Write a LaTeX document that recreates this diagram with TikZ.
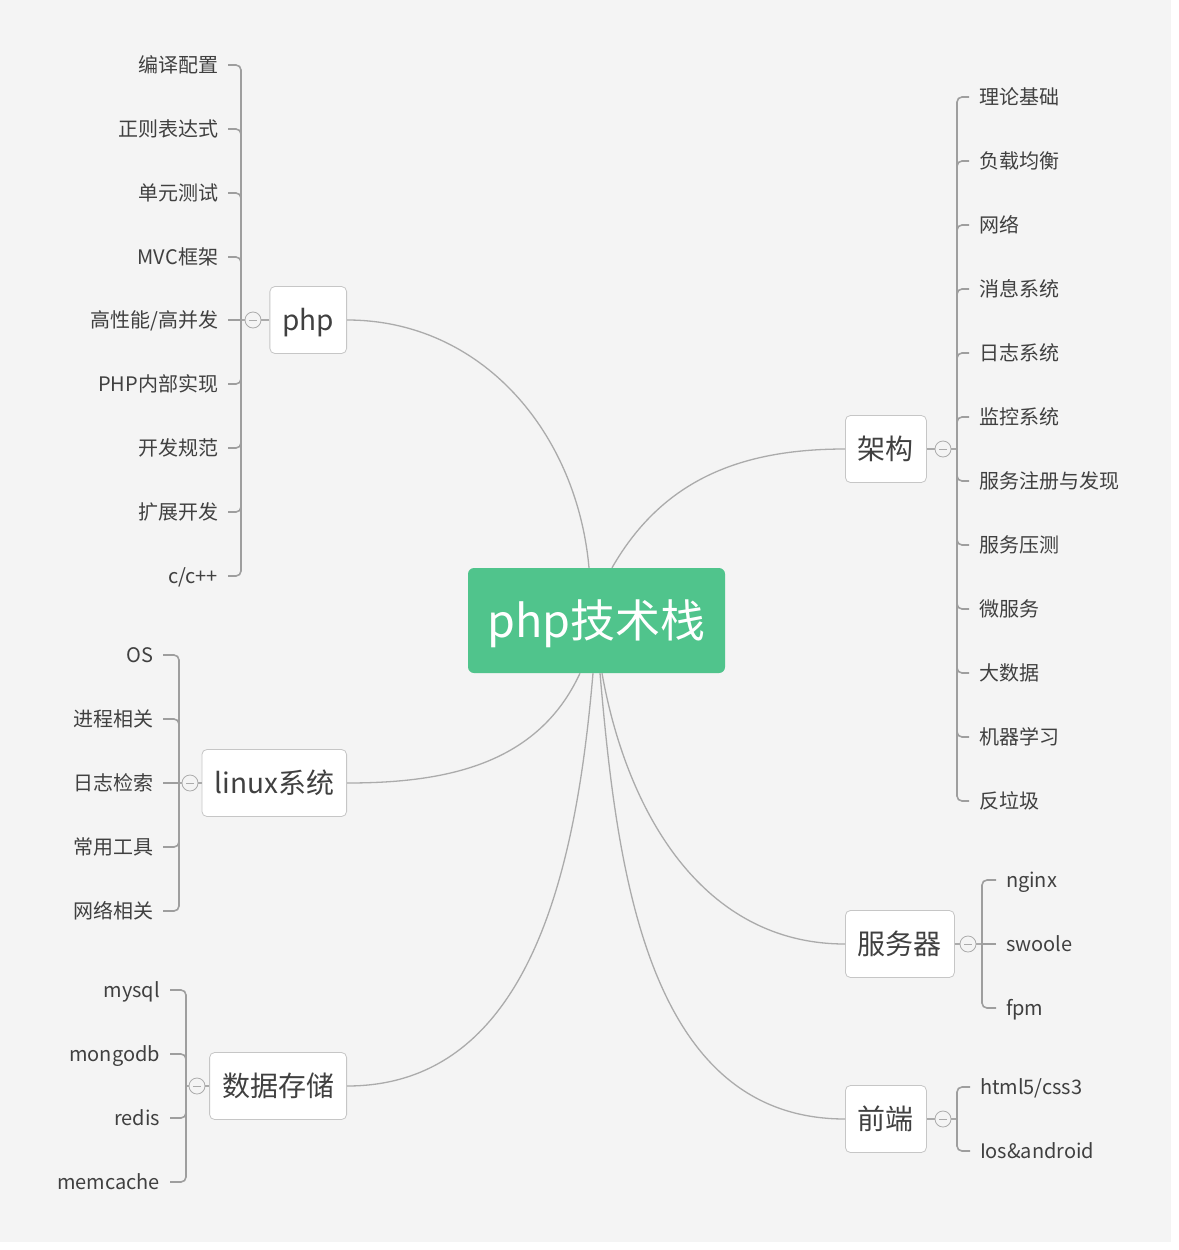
\documentclass[tikz,border=0pt]{standalone}
\usepackage{fontspec}
\setmainfont{Noto Sans CJK SC}
\usetikzlibrary{positioning}
\definecolor{bggray}{HTML}{F4F4F4}
\definecolor{rootgreen}{HTML}{50C48C}
\definecolor{inkgray}{HTML}{404040}
\definecolor{linegray}{HTML}{ABABAB}
\definecolor{spinegray}{HTML}{9E9E9E}
\definecolor{boxgray}{HTML}{C6C6C6}

\tikzset{
  root/.style={rectangle, rounded corners=6pt, fill=rootgreen, text=white,
    minimum width=257pt, minimum height=105pt, inner sep=0pt,
    font=\fontsize{45}{50}\selectfont, text height=39.5pt, text depth=5.5pt},
  topic/.style={rectangle, rounded corners=5pt, draw=boxgray, fill=white, text=inkgray,
    line width=0.8pt, minimum height=67pt, inner xsep=12.5pt,
    font=\fontsize{28}{32}\selectfont, text height=24.5pt, text depth=3.5pt},
  leaf/.style={inner ysep=0pt, inner xsep=0pt, outer xsep=10pt, text=inkgray,
    font=\fontsize{20}{24}\selectfont, text height=17.5pt, text depth=2.5pt},
  lleaf/.style={leaf, anchor=east},
  rleaf/.style={leaf, anchor=west},
  fold/.style={circle, draw=linegray, fill=bggray, minimum size=16pt, inner sep=0pt,
    line width=0.8pt,
    path picture={\draw[linegray, line width=0.8pt] ([xshift=-4pt]path picture bounding box.center) -- ([xshift=4pt]path picture bounding box.center);}},
  trunk/.style={draw=linegray, line width=1.3pt},
  bracket/.style={draw=spinegray, line width=1.6pt, rounded corners=5pt},
}

\begin{document}
\begin{tikzpicture}[x=1pt, y=-1pt]
  \useasboundingbox (0,0) rectangle (1178,1250);
  \fill[bggray] (0,0) rectangle (1171,1242);

  % centre
  \node[root] (root) at (596.5,620.5) {php技术栈};

  % main topics
  \node[topic, anchor=east] (php) at (347,320) {php};
  \node[topic, anchor=east] (linux) at (347,783) {linux系统};
  \node[topic, anchor=east] (store) at (347,1086) {数据存储};
  \node[topic, anchor=west] (arch) at (845,449) {架构};
  \node[topic, anchor=west] (server) at (845,944) {服务器};
  \node[topic, anchor=west] (front) at (845,1119) {前端};

  % starts of the trunks on the root
  \coordinate (rphp) at ([xshift=-7.5pt]root.north);
  \coordinate (rarch) at ([xshift=15.5pt]root.north);
  \coordinate (rlinux) at ([xshift=-16.5pt]root.south);
  \coordinate (rstore) at ([xshift=-3.5pt]root.south);
  \coordinate (rserver) at ([xshift=5.5pt]root.south);
  \coordinate (rfront) at ([xshift=3.5pt]root.south);

  \draw[trunk] (rphp) .. controls +(-12,-135) and +(135,0) .. (php.east);
  \draw[trunk] (rarch) .. controls +(51,-89) and +(-103,0) .. (arch.west);
  \draw[trunk] (rlinux) .. controls +(-42,91) and +(100,0) .. (linux.east);
  \draw[trunk] (rstore) .. controls +(-16,186) and +(187,0) .. (store.east);
  \draw[trunk] (rserver) .. controls +(25,140) and +(-142,0) .. (server.west);
  \draw[trunk] (rfront) .. controls +(17,197) and +(-198,0) .. (front.west);

  % php
  \coordinate (phps) at (241,320);
  \node[fold] (phpf) at (253,320) {};
  \node[lleaf] (p1) at (228,65) {编译配置};
  \node[lleaf] (p2) at (228,129) {正则表达式};
  \node[lleaf] (p3) at (228,193) {单元测试};
  \node[lleaf] (p4) at (228,257) {MVC框架};
  \node[lleaf] (p5) at (228,320) {高性能/高并发};
  \node[lleaf] (p6) at (228,384) {PHP内部实现};
  \node[lleaf] (p7) at (228,448) {开发规范};
  \node[lleaf] (p8) at (228,512) {扩展开发};
  \node[lleaf] (p9) at (228,576) {c/c++};
  \draw[trunk] (php.west) -- (phpf.east);
  \draw[trunk] (phpf.west) -- (phps);
  \draw[bracket] (p1.east) -- (p1.east -| phps) -- (phps);
  \draw[bracket] (p2.east) -- (p2.east -| phps) -- (phps);
  \draw[bracket] (p3.east) -- (p3.east -| phps) -- (phps);
  \draw[bracket] (p4.east) -- (p4.east -| phps) -- (phps);
  \draw[bracket] (p5.east) -- (phps);
  \draw[bracket] (p6.east) -- (p6.east -| phps) -- (phps);
  \draw[bracket] (p7.east) -- (p7.east -| phps) -- (phps);
  \draw[bracket] (p8.east) -- (p8.east -| phps) -- (phps);
  \draw[bracket] (p9.east) -- (p9.east -| phps) -- (phps);

  % linux
  \coordinate (linuxs) at (179,783);
  \node[fold] (linuxf) at (190,783) {};
  \node[lleaf] (l1) at (163,655) {OS};
  \node[lleaf] (l2) at (163,719) {进程相关};
  \node[lleaf] (l3) at (163,783) {日志检索};
  \node[lleaf] (l4) at (163,847) {常用工具};
  \node[lleaf] (l5) at (163,911) {网络相关};
  \draw[trunk] (linux.west) -- (linuxf.east);
  \draw[trunk] (linuxf.west) -- (linuxs);
  \draw[bracket] (l1.east) -- (l1.east -| linuxs) -- (linuxs);
  \draw[bracket] (l2.east) -- (l2.east -| linuxs) -- (linuxs);
  \draw[bracket] (l3.east) -- (linuxs);
  \draw[bracket] (l4.east) -- (l4.east -| linuxs) -- (linuxs);
  \draw[bracket] (l5.east) -- (l5.east -| linuxs) -- (linuxs);

  % storage
  \coordinate (stores) at (186,1086);
  \node[fold] (storef) at (197,1086) {};
  \node[lleaf] (s1) at (170,990) {mysql};
  \node[lleaf] (s2) at (170,1054) {mongodb};
  \node[lleaf] (s3) at (170,1118) {redis};
  \node[lleaf] (s4) at (170,1182) {memcache};
  \draw[trunk] (store.west) -- (storef.east);
  \draw[trunk] (storef.west) -- (stores);
  \draw[bracket] (s1.east) -- (s1.east -| stores) -- (stores);
  \draw[bracket] (s2.east) -- (s2.east -| stores) -- (stores);
  \draw[bracket] (s3.east) -- (s3.east -| stores) -- (stores);
  \draw[bracket] (s4.east) -- (s4.east -| stores) -- (stores);

  % architecture
  \coordinate (archs) at (957,449);
  \node[fold] (archf) at (943,449) {};
  \node[rleaf] (a1) at (969,97) {理论基础};
  \node[rleaf] (a2) at (969,161) {负载均衡};
  \node[rleaf] (a3) at (969,225) {网络};
  \node[rleaf] (a4) at (969,289) {消息系统};
  \node[rleaf] (a5) at (969,353) {日志系统};
  \node[rleaf] (a6) at (969,417) {监控系统};
  \node[rleaf] (a7) at (969,481) {服务注册与发现};
  \node[rleaf] (a8) at (969,545) {服务压测};
  \node[rleaf] (a9) at (969,609) {微服务};
  \node[rleaf] (a10) at (969,673) {大数据};
  \node[rleaf] (a11) at (969,737) {机器学习};
  \node[rleaf] (a12) at (969,801) {反垃圾};
  \draw[trunk] (arch.east) -- (archf.west);
  \draw[trunk] (archf.east) -- (archs);
  \draw[bracket] (a1.west) -- (a1.west -| archs) -- (archs);
  \draw[bracket] (a2.west) -- (a2.west -| archs) -- (archs);
  \draw[bracket] (a3.west) -- (a3.west -| archs) -- (archs);
  \draw[bracket] (a4.west) -- (a4.west -| archs) -- (archs);
  \draw[bracket] (a5.west) -- (a5.west -| archs) -- (archs);
  \draw[bracket] (a6.west) -- (a6.west -| archs) -- (archs);
  \draw[bracket] (a7.west) -- (a7.west -| archs) -- (archs);
  \draw[bracket] (a8.west) -- (a8.west -| archs) -- (archs);
  \draw[bracket] (a9.west) -- (a9.west -| archs) -- (archs);
  \draw[bracket] (a10.west) -- (a10.west -| archs) -- (archs);
  \draw[bracket] (a11.west) -- (a11.west -| archs) -- (archs);
  \draw[bracket] (a12.west) -- (a12.west -| archs) -- (archs);

  % server
  \coordinate (servers) at (982,944);
  \node[fold] (serverf) at (968,944) {};
  \node[rleaf] (v1) at (996,880) {nginx};
  \node[rleaf] (v2) at (996,944) {swoole};
  \node[rleaf] (v3) at (996,1008) {fpm};
  \draw[trunk] (server.east) -- (serverf.west);
  \draw[trunk] (serverf.east) -- (servers);
  \draw[bracket] (v1.west) -- (v1.west -| servers) -- (servers);
  \draw[bracket] (v2.west) -- (servers);
  \draw[bracket] (v3.west) -- (v3.west -| servers) -- (servers);

  % front end
  \coordinate (fronts) at (957,1119);
  \node[fold] (frontf) at (943,1119) {};
  \node[rleaf] (f1) at (970,1087) {html5/css3};
  \node[rleaf] (f2) at (970,1151) {Ios\&android};
  \draw[trunk] (front.east) -- (frontf.west);
  \draw[trunk] (frontf.east) -- (fronts);
  \draw[bracket] (f1.west) -- (f1.west -| fronts) -- (fronts);
  \draw[bracket] (f2.west) -- (f2.west -| fronts) -- (fronts);
\end{tikzpicture}
\end{document}
